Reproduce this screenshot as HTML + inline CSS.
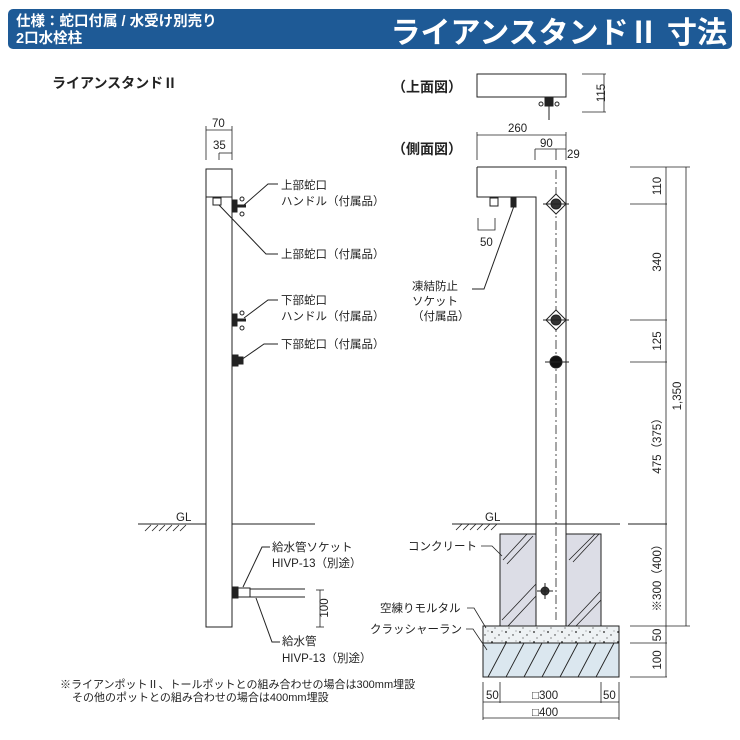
<!DOCTYPE html>
<html><head><meta charset="utf-8"><style>
html,body{margin:0;padding:0;background:#fff;}
svg{display:block;font-family:"Liberation Sans","Noto Sans CJK JP",sans-serif;}
</style></head><body>
<svg width="740" height="740" viewBox="0 0 740 740" xmlns="http://www.w3.org/2000/svg">
<defs>
<pattern id="sp" width="14" height="10" patternUnits="userSpaceOnUse">
<rect width="14" height="10" fill="#eef2f4"/>
<circle cx="2" cy="2" r="0.9" fill="#222"/><circle cx="9" cy="5" r="0.7" fill="#333"/><circle cx="5" cy="8" r="0.6" fill="#444"/><circle cx="12" cy="1" r="0.5" fill="#555"/>
</pattern>
</defs>
<!-- header -->
<rect x="8" y="9" width="724" height="40" rx="5" fill="#1e5a96"/>
<text x="16" y="26" font-size="14.5" font-weight="bold" fill="#fff">仕様：蛇口付属 / 水受け別売り</text>
<text x="16" y="43" font-size="14.5" font-weight="bold" fill="#fff">2口水栓柱</text>
<text x="727" y="43" font-size="30" font-weight="bold" fill="#fff" text-anchor="end">ライアンスタンドⅡ 寸法</text>

<g stroke="#222" fill="none" stroke-width="1">
<!-- LEFT front view -->
<rect x="206" y="169" width="26" height="458" fill="#fff"/>
<line x1="206" y1="197" x2="232" y2="197"/>
<rect x="213" y="198" width="8" height="7"/>
<line x1="206" y1="130" x2="232" y2="130" stroke-width="0.8"/>
<line x1="206" y1="126" x2="206" y2="160" stroke-width="0.8"/>
<line x1="232" y1="126" x2="232" y2="160" stroke-width="0.8"/>
<line x1="219" y1="153" x2="232" y2="153" stroke-width="0.8"/>
<line x1="219" y1="153" x2="219" y2="160" stroke-width="0.8"/>
<rect x="233" y="200" width="4" height="12" fill="#222"/>
<circle cx="242" cy="199" r="2"/><circle cx="242" cy="214" r="2"/><line x1="237" y1="206" x2="246" y2="206" stroke-width="3"/>
<rect x="233" y="314" width="4" height="12" fill="#222"/>
<circle cx="242" cy="313" r="2"/><circle cx="242" cy="328" r="2"/><line x1="237" y1="320" x2="246" y2="320" stroke-width="3"/>
<rect x="233" y="355" width="5" height="11" fill="#222"/><rect x="238" y="357" width="5" height="7" fill="#222"/>
<polyline points="244,205 268,184 278,184"/>
<polyline points="219,205 266,254 278,254"/>
<polyline points="244,318 268,300 278,300"/>
<polyline points="241,360 264,344 278,344"/>
<line x1="138" y1="524" x2="206" y2="524"/><line x1="232" y1="524" x2="315" y2="524"/>
<path d="M145,531 l6,-6 M152,531 l6,-6 M159,531 l6,-6 M166,531 l6,-6 M173,531 l6,-6 M180,531 l6,-6" stroke-width="0.8"/>
<rect x="233" y="587" width="5" height="11" fill="#222"/>
<rect x="238" y="588" width="12" height="9" fill="#fff"/>
<line x1="250" y1="589" x2="305" y2="589"/><line x1="250" y1="597" x2="305" y2="597"/>
<polyline points="243,587 262,547 270,547"/>
<polyline points="256,598 272,642 280,642"/>
<line x1="320" y1="590" x2="320" y2="627" stroke-width="0.8"/>
<line x1="316" y1="590" x2="324" y2="590" stroke-width="0.8"/>
<line x1="316" y1="627" x2="324" y2="627" stroke-width="0.8"/>

<!-- TOP view -->
<rect x="477" y="74" width="89" height="23"/>
<line x1="549" y1="97" x2="549" y2="120"/>
<rect x="545" y="98" width="8" height="8" fill="#222"/>
<circle cx="541" cy="104" r="2"/><circle cx="557" cy="104" r="2"/>
<line x1="582" y1="74" x2="606" y2="74" stroke-width="0.8"/>
<line x1="582" y1="112" x2="606" y2="112" stroke-width="0.8"/>
<line x1="604" y1="74" x2="604" y2="112" stroke-width="0.8"/>

<!-- SIDE view -->
<path d="M477,167 H566 V627 H536 V197 H477 Z" fill="#fff" stroke="none"/>
<path d="M477,167 H566 V627 M536,627 V197 H477 V167"/>
<line x1="556" y1="170" x2="556" y2="620" stroke-dasharray="9,3,2,3" stroke-width="0.8"/>
<rect x="490" y="198" width="8" height="8"/><rect x="511" y="198" width="5" height="9" fill="#222"/>
<line x1="477" y1="135" x2="566" y2="135" stroke-width="0.8"/>
<line x1="477" y1="132" x2="477" y2="160" stroke-width="0.8"/>
<line x1="566" y1="132" x2="566" y2="160" stroke-width="0.8"/>
<line x1="535" y1="149" x2="566" y2="149" stroke-width="0.8"/>
<line x1="535" y1="149" x2="535" y2="160" stroke-width="0.8"/>
<line x1="556" y1="149" x2="556" y2="160" stroke-width="0.8"/>
<polyline points="478,218 478,230 495,230 495,218" stroke-width="0.8"/>
<path d="M556,194 l10,10 l-10,10 l-10,-10 z" fill="#fff"/><circle cx="556" cy="204" r="5" fill="#333"/><line x1="543" y1="204" x2="569" y2="204"/>
<path d="M556,310 l10,10 l-10,10 l-10,-10 z" fill="#fff"/><circle cx="556" cy="320" r="5" fill="#333"/><line x1="543" y1="320" x2="569" y2="320"/>
<circle cx="556" cy="362" r="6" fill="#111"/><line x1="545" y1="362" x2="569" y2="362"/>
<polyline points="514,206 484,289 472,289"/>
<line x1="452" y1="524" x2="620" y2="524"/><line x1="628" y1="524" x2="667" y2="524"/>
<path d="M456,530 l6,-6 M463,530 l6,-6 M470,530 l6,-6 M477,530 l6,-6 M484,530 l6,-6 M491,530 l6,-6" stroke-width="0.8"/>
<rect x="500" y="534" width="36" height="92" fill="#dcdde6"/>
<rect x="566" y="534" width="35" height="92" fill="#dcdde6"/>
<path d="M503,560 l24,-26 M507,564 l26,-28 M502,620 l34,-36 M508,626 l28,-30 M569,560 l26,-26 M573,562 l26,-28 M568,626 l32,-34 M576,626 l25,-26" stroke-width="0.8"/>
<circle cx="545" cy="591" r="4" fill="#333"/><line x1="537" y1="591" x2="553" y2="591"/><line x1="545" y1="583" x2="545" y2="599"/>
<rect x="483" y="626" width="136" height="17" fill="url(#sp)"/>
<rect x="483" y="643" width="136" height="34" fill="#dbe7ef"/>
<path d="M488,677 l18,-34 M506,677 l18,-34 M524,677 l18,-34 M542,677 l18,-34 M560,677 l18,-34 M578,677 l18,-34 M596,677 l18,-34" stroke-width="0.9"/>
<polyline points="481,546 492,546 502,556" stroke-width="0.8"/>
<polyline points="467,608 474,608 486,628" stroke-width="0.8"/>
<polyline points="466,629 473,629 487,650" stroke-width="0.8"/>
<line x1="630" y1="167" x2="690" y2="167" stroke-width="0.8"/>
<line x1="630" y1="204" x2="667" y2="204" stroke-width="0.8"/>
<line x1="630" y1="320" x2="667" y2="320" stroke-width="0.8"/>
<line x1="630" y1="362" x2="667" y2="362" stroke-width="0.8"/>
<line x1="630" y1="626" x2="690" y2="626" stroke-width="0.8"/>
<line x1="630" y1="643" x2="667" y2="643" stroke-width="0.8"/>
<line x1="630" y1="677" x2="667" y2="677" stroke-width="0.8"/>
<line x1="666" y1="167" x2="666" y2="677" stroke-width="0.8"/>
<line x1="686" y1="167" x2="686" y2="626" stroke-width="0.8"/>
<line x1="483" y1="682" x2="483" y2="720" stroke-width="0.8"/>
<line x1="619" y1="682" x2="619" y2="720" stroke-width="0.8"/>
<line x1="500" y1="682" x2="500" y2="703" stroke-width="0.8"/>
<line x1="601" y1="682" x2="601" y2="703" stroke-width="0.8"/>
<line x1="483" y1="702" x2="619" y2="702" stroke-width="0.8"/>
<line x1="483" y1="718" x2="619" y2="718" stroke-width="0.8"/>
</g>

<g font-size="11.5" fill="#222">
<text x="52" y="88" font-size="14" font-weight="bold">ライアンスタンドⅡ</text>
<text x="392" y="92" font-size="14" font-weight="bold">（上面図）</text>
<text x="392" y="154" font-size="14" font-weight="bold">（側面図）</text>
<text x="212" y="127">70</text>
<text x="213" y="149">35</text>
<text x="281" y="189">上部蛇口</text>
<text x="281" y="205">ハンドル（付属品）</text>
<text x="281" y="258">上部蛇口（付属品）</text>
<text x="281" y="304">下部蛇口</text>
<text x="281" y="320">ハンドル（付属品）</text>
<text x="281" y="348">下部蛇口（付属品）</text>
<text x="176" y="521">GL</text>
<text x="272" y="551">給水管ソケット</text>
<text x="272" y="567">HIVP-13（別途）</text>
<text x="282" y="645">給水管</text>
<text x="282" y="662">HIVP-13（別途）</text>
<text x="60" y="688" font-size="11">※ライアンポットⅡ、トールポットとの組み合わせの場合は300mm埋設</text>
<text x="72" y="701" font-size="11">その他のポットとの組み合わせの場合は400mm埋設</text>
<text x="508" y="132">260</text>
<text x="540" y="147">90</text>
<text x="567" y="158">29</text>
<text x="480" y="246">50</text>
<text x="412" y="290">凍結防止</text>
<text x="412" y="305">ソケット</text>
<text x="412" y="320">（付属品）</text>
<text x="485" y="521">GL</text>
<text x="408" y="550">コンクリート</text>
<text x="380" y="612">空練りモルタル</text>
<text x="370" y="633">クラッシャーラン</text>
<text x="486" y="699">50</text>
<text x="532" y="699">□300</text>
<text x="603" y="699">50</text>
<text x="532" y="716">□400</text>
<text transform="translate(605,93) rotate(-90)" text-anchor="middle">115</text>
<text transform="translate(661,186) rotate(-90)" text-anchor="middle">110</text>
<text transform="translate(661,262) rotate(-90)" text-anchor="middle">340</text>
<text transform="translate(661,341) rotate(-90)" text-anchor="middle">125</text>
<text transform="translate(661,443) rotate(-90)" text-anchor="middle">475（375）</text>
<text transform="translate(661,575) rotate(-90)" text-anchor="middle">※300（400）</text>
<text transform="translate(661,635) rotate(-90)" text-anchor="middle">50</text>
<text transform="translate(661,660) rotate(-90)" text-anchor="middle">100</text>
<text transform="translate(681,396) rotate(-90)" text-anchor="middle">1,350</text>
<text transform="translate(328,608) rotate(-90)" text-anchor="middle">100</text>
</g>
</svg>
</body></html>
